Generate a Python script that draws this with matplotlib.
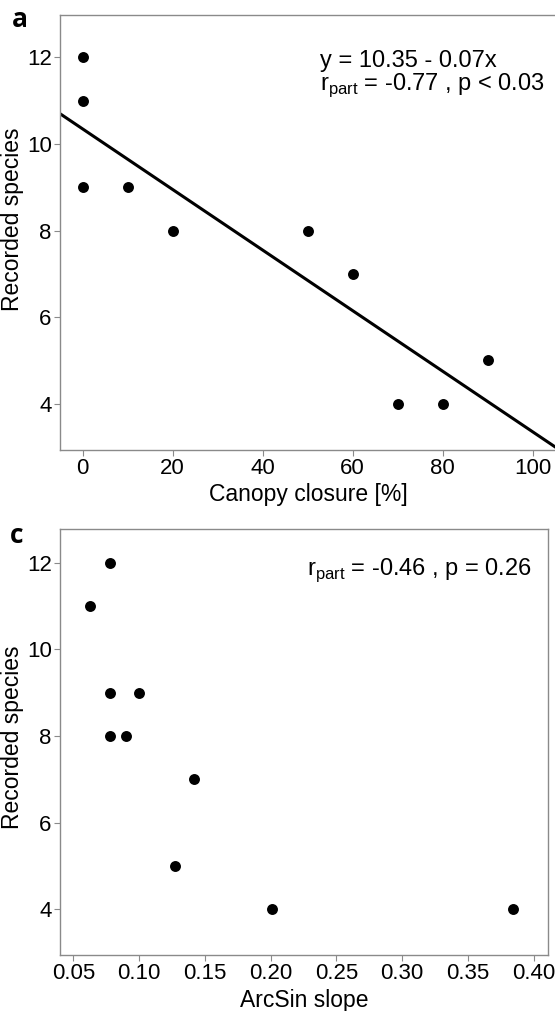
import matplotlib

matplotlib.use("Agg")
import matplotlib.pyplot as plt

# panel a: canopy closure vs recorded species
canopy = [0, 0, 0, 10, 20, 50, 60, 70, 80, 90]
species_a = [12, 11, 9, 9, 8, 8, 7, 4, 4, 5]
intercept, slope = 10.35, -0.07

# panel c: arcsin slope vs recorded species
arcsin_slope = [0.078, 0.063, 0.078, 0.100, 0.078, 0.090, 0.142, 0.127, 0.201, 0.384]
species_c = [12, 11, 9, 9, 8, 8, 7, 5, 4, 4]

a_xticks = [0, 20, 40, 60, 80, 100]
c_xticks = [0.05, 0.10, 0.15, 0.20, 0.25, 0.30, 0.35, 0.40]
yticks = [4, 6, 8, 10, 12]

plt.rcParams["font.family"] = ["Liberation Sans", "DejaVu Sans"]
W, H = 555, 1011
fig = plt.figure(figsize=(W / 100, H / 100), dpi=100)


def px_axes(left, top, right, bottom):
    return fig.add_axes([left / W, 1 - bottom / H, (right - left) / W, (bottom - top) / H])


def style(ax, label_x, label_y=0.5):
    for s in ax.spines.values():
        s.set_color("#8a8a8a")
        s.set_linewidth(1.0)
    ax.tick_params(direction="out", length=4, width=0.8, color="#8a8a8a",
                   labelsize=16, pad=2)
    ax.set_yticks(yticks)
    ax.set_ylabel("Recorded species", fontsize=16.5)
    ax.yaxis.set_label_coords(label_x, label_y)


ax1 = px_axes(60, 15, 557, 450)
ax1.scatter(canopy, species_a, s=62, color="black", zorder=3, linewidths=0)
xl = (-5, 105.4)
ax1.plot(xl, [intercept + slope * x for x in xl], color="black", lw=2.2)
ax1.set_xlim(xl)
ax1.set_ylim(2.93, 12.98)
ax1.set_xticks(a_xticks)
style(ax1, -0.0724, 0.53)
ax1.set_xlabel("Canopy closure [%]", fontsize=16.5, labelpad=3)
ax1.text(0.524, 0.88, "y = 10.35 - 0.07x", transform=ax1.transAxes, fontsize=17)
ax1.text(0.524, 0.828, r"r$_{\mathregular{part}}$ = -0.77 , p < 0.03",
         transform=ax1.transAxes, fontsize=17)
fig.text(12 / W, 1 - 27 / H, "a", fontsize=19, fontweight="bold",
         family=["Open Sans", "DejaVu Sans"])

ax2 = px_axes(60, 529, 548, 955)
ax2.scatter(arcsin_slope, species_c, s=62, color="black", zorder=3, linewidths=0)
ax2.set_xlim(0.0399, 0.4108)
ax2.set_ylim(2.94, 12.78)
ax2.set_xticks(c_xticks)
ax2.set_xticklabels([f"{v:.2f}" for v in c_xticks])
style(ax2, -0.0738, 0.51)
ax2.set_xlabel("ArcSin slope", fontsize=16.5, labelpad=3)
ax2.text(0.506, 0.893, r"r$_{\mathregular{part}}$ = -0.46 , p = 0.26",
         transform=ax2.transAxes, fontsize=17)
fig.text(10 / W, 1 - 543 / H, "c", fontsize=19, fontweight="bold",
         family=["Open Sans", "DejaVu Sans"])

fig.savefig("out.png", dpi=100)
